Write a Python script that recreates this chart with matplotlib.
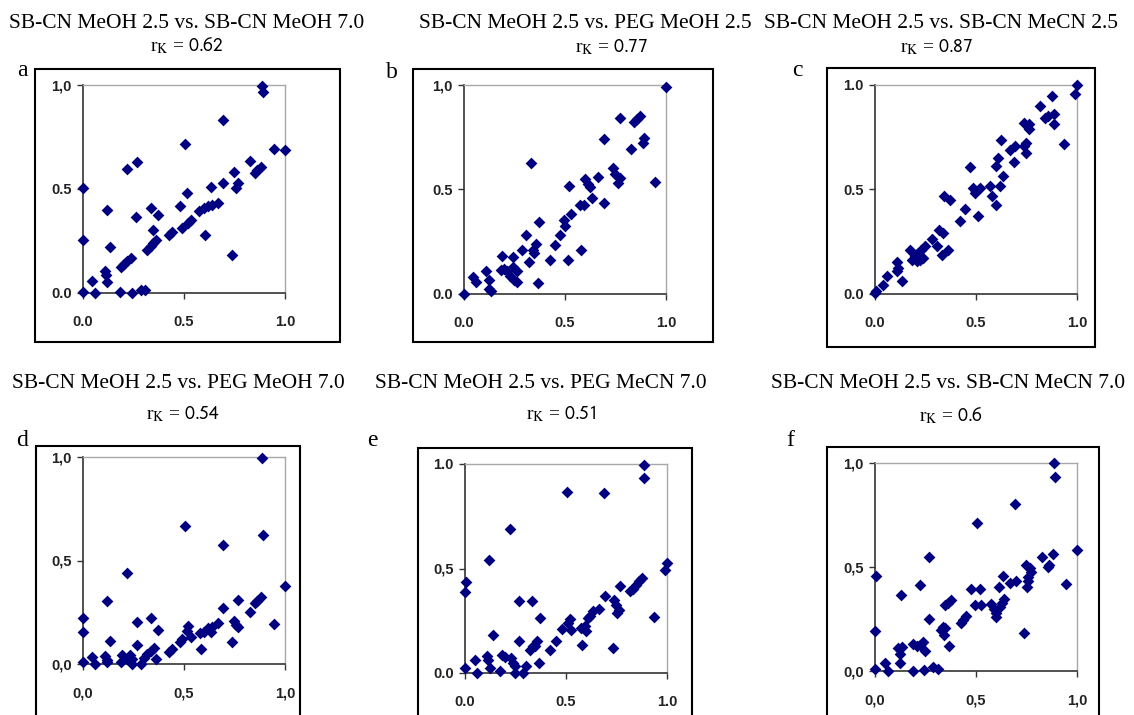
import matplotlib
matplotlib.use("Agg")
import matplotlib.pyplot as plt
from matplotlib.patches import Rectangle

W, H = 1134, 715

# panel a: SB-CN MeOH 2.5 vs. SB-CN MeOH 7.0
a_x = [0.888, 0.893, 0.693, 0.505, 0.944, 1.0, 0.825, 0.883, 0.863, 0.850, 0.746,
       0.266, 0.219, 0.0, 0.693, 0.632, 0.767, 0.759, 0.516, 0.479, 0.337, 0.117,
       0.373, 0.261, 0.668, 0.640, 0.620, 0.599, 0.574, 0.533, 0.521, 0.492, 0.442,
       0.426, 0.347, 0.604, 0.363, 0.348, 0.335, 0.318, 0.0, 0.134, 0.739, 0.236,
       0.219, 0.203, 0.186, 0.109, 0.116, 0.117, 0.046, 0.0, 0.059, 0.183, 0.241,
       0.285, 0.307]
a_y = [0.997, 0.968, 0.832, 0.715, 0.690, 0.686, 0.635, 0.608, 0.592, 0.576, 0.581,
       0.629, 0.595, 0.504, 0.531, 0.512, 0.528, 0.507, 0.480, 0.418, 0.410, 0.398,
       0.373, 0.363, 0.434, 0.424, 0.416, 0.408, 0.395, 0.352, 0.336, 0.312, 0.293,
       0.277, 0.304, 0.280, 0.256, 0.240, 0.224, 0.205, 0.256, 0.219, 0.181, 0.168,
       0.155, 0.139, 0.123, 0.107, 0.088, 0.053, 0.056, 0.005, 0.0, 0.003, 0.0,
       0.013, 0.013]

# panel b: SB-CN MeOH 2.5 vs. PEG MeOH 2.5
b_x = [1.0, 0.773, 0.872, 0.855, 0.844, 0.691, 0.893, 0.885, 0.826, 0.334, 0.946,
       0.737, 0.748, 0.773, 0.760, 0.661, 0.600, 0.613, 0.622, 0.521, 0.636, 0.691,
       0.592, 0.576, 0.531, 0.373, 0.493, 0.502, 0.477, 0.449, 0.581, 0.308, 0.354,
       0.340, 0.349, 0.285, 0.428, 0.515, 0.186, 0.242, 0.321, 0.181, 0.197, 0.214,
       0.242, 0.263, 0.230, 0.247, 0.263, 0.367, 0.110, 0.123, 0.044, 0.061, 0.123,
       0.132, 0.0]
b_y = [0.992, 0.840, 0.851, 0.835, 0.823, 0.744, 0.748, 0.724, 0.695, 0.628, 0.537,
       0.601, 0.572, 0.556, 0.532, 0.559, 0.551, 0.524, 0.511, 0.516, 0.460, 0.436,
       0.428, 0.428, 0.383, 0.345, 0.356, 0.324, 0.281, 0.233, 0.209, 0.281, 0.240,
       0.212, 0.196, 0.209, 0.165, 0.165, 0.181, 0.176, 0.153, 0.117, 0.121, 0.109,
       0.128, 0.112, 0.085, 0.069, 0.058, 0.053, 0.112, 0.069, 0.080, 0.058, 0.026,
       0.013, 0.0]

# panel c: SB-CN MeOH 2.5 vs. SB-CN MeCN 2.5
c_x = [1.0, 0.990, 0.875, 0.819, 0.888, 0.855, 0.844, 0.888, 0.737, 0.760, 0.760,
       0.625, 0.938, 0.748, 0.737, 0.691, 0.666, 0.748, 0.609, 0.597, 0.686, 0.472,
       0.633, 0.485, 0.502, 0.521, 0.493, 0.567, 0.617, 0.579, 0.597, 0.342, 0.370,
       0.447, 0.423, 0.510, 0.317, 0.336, 0.280, 0.308, 0.362, 0.334, 0.247, 0.230,
       0.214, 0.197, 0.181, 0.206, 0.222, 0.238, 0.173, 0.107, 0.115, 0.107, 0.132,
       0.058, 0.041, 0.0, 0.005]
c_y = [1.0, 0.958, 0.947, 0.899, 0.863, 0.851, 0.840, 0.815, 0.820, 0.812, 0.788,
       0.736, 0.719, 0.724, 0.708, 0.708, 0.687, 0.676, 0.652, 0.612, 0.633, 0.607,
       0.564, 0.508, 0.492, 0.508, 0.484, 0.516, 0.516, 0.468, 0.428, 0.468, 0.449,
       0.407, 0.351, 0.371, 0.308, 0.292, 0.265, 0.228, 0.212, 0.188, 0.228, 0.212,
       0.196, 0.181, 0.165, 0.157, 0.165, 0.173, 0.212, 0.153, 0.125, 0.112, 0.064,
       0.085, 0.042, 0.005, 0.013]

# panel d: SB-CN MeOH 2.5 vs. PEG MeOH 7.0
d_x = [0.888, 0.505, 0.891, 0.693, 0.219, 1.0, 0.117, 0.767, 0.883, 0.863, 0.850,
       0.693, 0.825, 0.0, 0.337, 0.266, 0.746, 0.756, 0.767, 0.946, 0.373, 0.0,
       0.668, 0.640, 0.620, 0.599, 0.578, 0.632, 0.521, 0.516, 0.533, 0.134, 0.266,
       0.492, 0.479, 0.442, 0.426, 0.739, 0.583, 0.351, 0.335, 0.318, 0.302, 0.363,
       0.285, 0.191, 0.231, 0.241, 0.219, 0.186, 0.109, 0.117, 0.117, 0.046, 0.0,
       0.059, 0.241]
d_y = [0.997, 0.666, 0.624, 0.573, 0.440, 0.376, 0.306, 0.311, 0.323, 0.306, 0.295,
       0.269, 0.250, 0.221, 0.221, 0.205, 0.210, 0.189, 0.177, 0.194, 0.166, 0.153,
       0.198, 0.177, 0.173, 0.156, 0.150, 0.156, 0.182, 0.161, 0.129, 0.113, 0.092,
       0.121, 0.105, 0.073, 0.056, 0.108, 0.073, 0.076, 0.065, 0.048, 0.027, 0.024,
       0.0, 0.044, 0.044, 0.024, 0.024, 0.011, 0.037, 0.021, 0.008, 0.032, 0.008,
       0.0, 0.0]

# panel e: SB-CN MeOH 2.5 vs. PEG MeCN 7.0
e_x = [0.885, 0.885, 0.505, 0.686, 0.222, 0.120, 1.0, 0.990, 0.005, 0.0, 0.875,
       0.863, 0.847, 0.831, 0.817, 0.765, 0.691, 0.740, 0.748, 0.760, 0.753, 0.266,
       0.334, 0.661, 0.633, 0.617, 0.609, 0.373, 0.521, 0.510, 0.938, 0.482, 0.526,
       0.592, 0.576, 0.597, 0.137, 0.449, 0.266, 0.423, 0.354, 0.337, 0.321, 0.345,
       0.581, 0.735, 0.367, 0.107, 0.115, 0.123, 0.049, 0.181, 0.199, 0.230, 0.238,
       0.247, 0.174, 0.304, 0.288, 0.0, 0.061, 0.247]
e_y = [0.997, 0.933, 0.867, 0.861, 0.688, 0.541, 0.525, 0.493, 0.437, 0.387, 0.456,
       0.440, 0.419, 0.400, 0.392, 0.416, 0.368, 0.349, 0.323, 0.301, 0.285, 0.344,
       0.344, 0.307, 0.296, 0.275, 0.264, 0.261, 0.256, 0.240, 0.269, 0.211, 0.208,
       0.224, 0.216, 0.200, 0.181, 0.152, 0.152, 0.112, 0.152, 0.131, 0.112, 0.128,
       0.133, 0.120, 0.048, 0.083, 0.061, 0.024, 0.061, 0.088, 0.077, 0.072, 0.048,
       0.032, 0.008, 0.032, 0.0, 0.024, 0.0, 0.0]

# panel f: SB-CN MeOH 2.5 vs. SB-CN MeCN 7.0
f_x = [0.888, 0.891, 0.691, 0.507, 1.0, 0.883, 0.827, 0.266, 0.863, 0.855, 0.748,
       0.765, 0.773, 0.757, 0.005, 0.633, 0.946, 0.699, 0.666, 0.757, 0.752, 0.225,
       0.613, 0.477, 0.518, 0.127, 0.378, 0.362, 0.345, 0.641, 0.630, 0.617, 0.493,
       0.526, 0.576, 0.589, 0.600, 0.597, 0.452, 0.436, 0.428, 0.266, 0.337, 0.349,
       0.329, 0.340, 0.0, 0.740, 0.367, 0.238, 0.222, 0.247, 0.189, 0.206, 0.132,
       0.115, 0.123, 0.123, 0.049, 0.0, 0.066, 0.186, 0.243, 0.288, 0.313]
f_y = [1.0, 0.933, 0.803, 0.711, 0.583, 0.563, 0.546, 0.546, 0.510, 0.498, 0.510,
       0.494, 0.478, 0.454, 0.459, 0.459, 0.419, 0.433, 0.422, 0.433, 0.406, 0.414,
       0.406, 0.393, 0.393, 0.363, 0.339, 0.326, 0.315, 0.347, 0.326, 0.310, 0.318,
       0.315, 0.321, 0.299, 0.278, 0.262, 0.266, 0.246, 0.230, 0.250, 0.213, 0.205,
       0.197, 0.173, 0.194, 0.181, 0.122, 0.141, 0.125, 0.096, 0.128, 0.122, 0.117,
       0.112, 0.080, 0.037, 0.037, 0.008, 0.0, 0.002, 0.005, 0.021, 0.008]

titles = ["SB-CN MeOH 2.5 vs. SB-CN MeOH 7.0", "SB-CN MeOH 2.5 vs. PEG MeOH 2.5",
          "SB-CN MeOH 2.5 vs. SB-CN MeCN 2.5", "SB-CN MeOH 2.5 vs. PEG MeOH 7.0",
          "SB-CN MeOH 2.5 vs. PEG MeCN 7.0", "SB-CN MeOH 2.5 vs. SB-CN MeCN 7.0"]
rk_values = ["0.62", "0.77", "0.87", "0.54", "0.51", "0.6"]
letters = ["a", "b", "c", "d", "e", "f"]

x_ticklabels = [["0.0", "0.5", "1.0"], ["0.0", "0.5", "1.0"], ["0.0", "0.5", "1.0"],
                ["0,0", "0,5", "1,0"], ["0.0", "0.5", "1.0"], ["0,0", "0,5", "1,0"]]
y_ticklabels = [["0.0", "0.5", "1,0"], ["0.0", "0.5", "1,0"], ["0.0", "0.5", "1.0"],
                ["0,0", "0,5", "1,0"], ["0.0", "0,5", "1.0"], ["0,0", "0,5", "1,0"]]

# layout in pixels: plot area and outer box as (l, t, r, b)
plot_px = [(83, 85, 285, 293), (464, 85, 666, 294), (875, 85, 1077, 294),
           (83, 457, 285, 664), (465, 464, 667, 673), (875, 463, 1077, 671)]
box_px = [(35, 69, 340, 342), (413, 69, 713, 342), (827, 68, 1095, 347),
          (36, 446, 300, 730), (418, 448, 692, 730), (827, 447, 1099, 730)]
title_cx = [187, 585, 941, 178, 541, 948]
title_y = [24, 24, 24, 384, 384, 384]
rk_cx = [187, 612, 937, 183, 561, 951]
rk_y = [46, 47, 47, 414, 414, 416]
letter_xy = [(22, 70), (392, 72), (797, 70), (22, 440), (372, 441), (790, 440)]

xs = [a_x, b_x, c_x, d_x, e_x, f_x]
ys = [a_y, b_y, c_y, d_y, e_y, f_y]

plt.rcParams["mathtext.fontset"] = "stix"
serif = "Liberation Serif"

fig = plt.figure(figsize=(W / 100, H / 100), dpi=100)
fig.patch.set_facecolor("white")


def frac(l, t, r, b):
    return [l / W, 1 - b / H, (r - l) / W, (b - t) / H]


for i in range(6):
    bl, bt, br, bb = box_px[i]
    fig.add_artist(Rectangle((bl / W, 1 - bb / H), (br - bl) / W, (bb - bt) / H,
                             transform=fig.transFigure, fill=False, ec="black", lw=1.5))

    ax = fig.add_axes(frac(*plot_px[i]))
    ax.scatter(xs[i], ys[i], marker="D", s=36, color="#000080", linewidths=0,
               clip_on=False, zorder=3)
    ax.set_xlim(0, 1)
    ax.set_ylim(0, 1)
    ax.set_xticks([0, 0.5, 1])
    ax.set_yticks([0, 0.5, 1])
    ax.set_xticklabels(x_ticklabels[i])
    ax.set_yticklabels(y_ticklabels[i])
    for lab in ax.get_xticklabels() + ax.get_yticklabels():
        lab.set_fontfamily("Liberation Sans")
        lab.set_fontweight("bold")
        lab.set_fontsize(10.5)
        lab.set_color("#222222")
    ax.tick_params(direction="out", length=4, width=1, color="#333333")
    ax.tick_params(axis="x", pad=12)
    ax.tick_params(axis="y", pad=4)
    for side in ["left", "bottom"]:
        ax.spines[side].set_color("#333333")
        ax.spines[side].set_linewidth(1.2)
    for side in ["top", "right"]:
        ax.spines[side].set_color("#a8a8a8")
        ax.spines[side].set_linewidth(1.0)

    fig.text(title_cx[i] / W, 1 - title_y[i] / H, titles[i], ha="center", va="center",
             fontsize=15.5, family=serif)
    fig.text(rk_cx[i] / W, 1 - rk_y[i] / H,
             r"r$_{\mathrm{K}}$ = $\mathsf{" + rk_values[i] + "}$",
             ha="center", va="center", fontsize=14, family=serif)
    lx, ly = letter_xy[i]
    fig.text(lx / W, 1 - ly / H, letters[i], ha="center", va="center",
             fontsize=17, family=serif)

fig.savefig("out.png", dpi=100)
